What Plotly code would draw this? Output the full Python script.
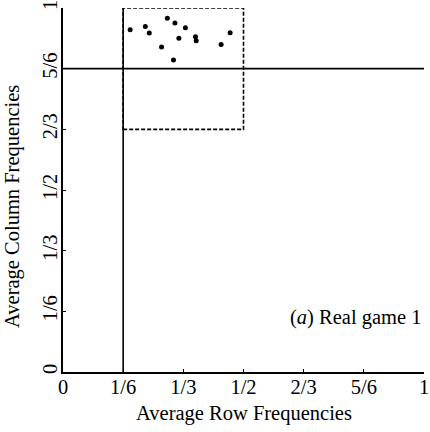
import plotly.graph_objects as go

# Average row / column frequencies for each session of Real game 1
row_freq = [0.186, 0.228, 0.239, 0.289, 0.310, 0.339, 0.321, 0.273, 0.306, 0.367, 0.369, 0.438, 0.463]
col_freq = [0.940, 0.949, 0.931, 0.972, 0.959, 0.946, 0.917, 0.893, 0.857, 0.921, 0.910, 0.900, 0.932]

tick_vals = [0, 1/6, 1/3, 1/2, 2/3, 5/6, 1]
tick_text = ["0", "1/6", "1/3", "1/2", "2/3", "5/6", "1"]

# Equilibrium reference lines and the region bounding the observations
eq_row = 1/6
eq_col = 5/6
box_x = [1/6, 1/2]
box_y = [2/3, 1]

FONT = "Liberation Serif"
SIZE = 20.5

W, H = 430, 432
L, R, T, B = 63, 6, 8, 60
pw, ph = W - L - R, H - T - B

fig = go.Figure()
fig.add_trace(go.Scatter(
    x=row_freq, y=col_freq, mode="markers",
    marker=dict(color="black", size=5),
    showlegend=False, hoverinfo="skip",
))

fig.add_shape(type="line", xref="x", yref="y", x0=eq_row, x1=eq_row, y0=0, y1=1,
              line=dict(color="black", width=1.6))
fig.add_shape(type="line", xref="x", yref="y", x0=0, x1=1, y0=eq_col, y1=eq_col,
              line=dict(color="black", width=1.6))
fig.add_shape(type="rect", xref="x", yref="y", x0=box_x[0], x1=box_x[1], y0=box_y[0], y1=box_y[1],
              line=dict(color="black", width=1.6, dash="4px,2px"))

fig.add_annotation(x=1, y=0.15, xref="x", yref="y", xanchor="right", yanchor="middle",
                   text="(<i>a</i>) Real game 1", showarrow=False,
                   font=dict(family=FONT, size=SIZE, color="black"))

# Axis titles, placed in paper coordinates from pixel offsets
fig.add_annotation(x=0.5, y=(H - B - 413) / ph, xref="paper", yref="paper",
                   xanchor="center", yanchor="middle",
                   text="Average Row Frequencies", showarrow=False,
                   font=dict(family=FONT, size=SIZE, color="black"))
fig.add_annotation(x=(12 - L) / pw, y=(H - B - 207) / ph, xref="paper", yref="paper",
                   xanchor="center", yanchor="middle",
                   text="Average Column Frequencies", showarrow=False, textangle=-90,
                   font=dict(family=FONT, size=SIZE, color="black"))

axis_common = dict(
    range=[0, 1], tickvals=tick_vals, ticktext=tick_text,
    showgrid=False, zeroline=False, showline=True, linecolor="black", linewidth=1.5,
    ticks="inside", ticklen=3, tickcolor="black", ticklabeloverflow="allow",
    tickfont=dict(family=FONT, size=SIZE, color="black"),
    automargin=False,
)

fig.update_xaxes(**axis_common, ticklabelstandoff=-4)
fig.update_yaxes(**axis_common, tickangle=-90, ticklabelstandoff=-4)

fig.update_layout(
    width=W, height=H,
    margin=dict(l=L, r=R, t=T, b=B),
    plot_bgcolor="white", paper_bgcolor="white",
)

fig.write_html("out.html")
